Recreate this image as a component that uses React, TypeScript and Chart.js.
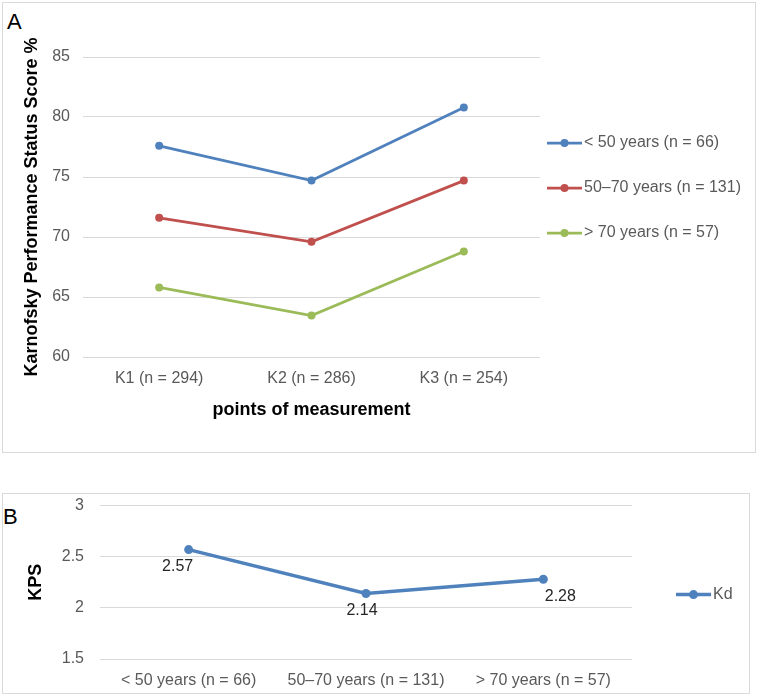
import React, { useEffect, useRef } from "react";
import { Chart, registerables } from "chart.js";
Chart.register(...registerables);

// ---- data ----
const measurementPoints = ["K1 (n = 294)", "K2 (n = 286)", "K3 (n = 254)"];
const groupNames = ["< 50 years (n = 66)", "50–70 years (n = 131)", "> 70 years (n = 57)"];
const under50 = [77.6, 74.7, 80.8];
const from50to70 = [71.6, 69.6, 74.7];
const over70 = [65.8, 63.45, 68.8];
const scoreTicks = [60, 65, 70, 75, 80, 85];

const kdLabel = "Kd";
const kdValues = [2.57, 2.14, 2.28];
const kpsTicks = [1.5, 2, 2.5, 3];

// ---- style ----
const FONT = "'Liberation Sans', Arial, sans-serif";
const BLUE = "#4F81BD";
const RED = "#C0504D";
const GREEN = "#9BBB59";
const GRID = "#d9d9d9";
const TICK = "#595959";

const legendA = {
  id: "legendA",
  afterDraw(chart: any) {
    const { ctx, chartArea } = chart;
    chart.data.datasets.forEach((ds: any, i: number) => {
      const y = chartArea.top + 86 + i * 45;
      const x0 = chartArea.right + 7;
      ctx.save();
      ctx.strokeStyle = ds.borderColor;
      ctx.lineWidth = 2.75;
      ctx.beginPath();
      ctx.moveTo(x0, y);
      ctx.lineTo(x0 + 35, y);
      ctx.stroke();
      ctx.fillStyle = ds.borderColor;
      ctx.beginPath();
      ctx.arc(x0 + 17.5, y, 4, 0, Math.PI * 2);
      ctx.fill();
      ctx.fillStyle = TICK;
      ctx.font = `16px ${FONT}`;
      ctx.textBaseline = "middle";
      ctx.textAlign = "left";
      ctx.fillText(ds.label, x0 + 37, y);
      ctx.restore();
    });
  },
};

const legendB = {
  id: "legendB",
  afterDraw(chart: any) {
    const { ctx, chartArea } = chart;
    const ds = chart.data.datasets[0];
    const y = chartArea.top + 89;
    const x0 = chartArea.right + 44;
    ctx.save();
    ctx.strokeStyle = ds.borderColor;
    ctx.lineWidth = 3.5;
    ctx.beginPath();
    ctx.moveTo(x0, y);
    ctx.lineTo(x0 + 35, y);
    ctx.stroke();
    ctx.fillStyle = ds.borderColor;
    ctx.beginPath();
    ctx.arc(x0 + 17.5, y, 4.5, 0, Math.PI * 2);
    ctx.fill();
    ctx.fillStyle = TICK;
    ctx.font = `16px ${FONT}`;
    ctx.textBaseline = "middle";
    ctx.textAlign = "left";
    ctx.fillText(ds.label, x0 + 37, y);
    ctx.restore();
  },
};

const labelShift = [-11, -4, 17];
const dataLabelsB = {
  id: "dataLabelsB",
  afterDatasetsDraw(chart: any) {
    const { ctx } = chart;
    const meta = chart.getDatasetMeta(0);
    const values = chart.data.datasets[0].data;
    ctx.save();
    ctx.fillStyle = "#262626";
    ctx.font = `16px ${FONT}`;
    ctx.textAlign = "center";
    ctx.textBaseline = "middle";
    meta.data.forEach((pt: any, i: number) => {
      ctx.fillText(Number(values[i]).toFixed(2), pt.x + labelShift[i], pt.y + 17);
    });
    ctx.restore();
  },
};

function ChartA() {
  const ref = useRef<HTMLCanvasElement>(null);
  useEffect(() => {
    const mk = (label: string, data: number[], color: string) => ({
      label,
      data,
      borderColor: color,
      backgroundColor: color,
      borderWidth: 2.75,
      pointRadius: 4,
      pointHoverRadius: 4,
      pointBorderWidth: 0,
      tension: 0,
    });
    const chart = new Chart(ref.current!, {
      type: "line",
      data: {
        labels: measurementPoints,
        datasets: [
          mk(groupNames[0], under50, BLUE),
          mk(groupNames[1], from50to70, RED),
          mk(groupNames[2], over70, GREEN),
        ],
      },
      options: {
        animation: false,
        responsive: false,
        layout: { padding: { top: 57, right: 218, left: 0, bottom: 0 } },
        plugins: { legend: { display: false }, tooltip: { enabled: false } },
        scales: {
          x: {
            offset: true,
            grid: { display: false, drawTicks: false },
            border: { display: false },
            ticks: { color: TICK, font: { family: FONT, size: 16 }, padding: 12, maxRotation: 0 },
            title: {
              display: true,
              text: "points of measurement",
              color: "#000",
              font: { family: FONT, size: 18, weight: "bold" },
              padding: { top: 0, bottom: 49 },
            },
            afterFit(s: any) { s.height = 113; },
          },
          y: {
            min: 60,
            max: 85,
            afterBuildTicks(s: any) { s.ticks = scoreTicks.map((v) => ({ value: v })); },
            grid: { color: GRID, lineWidth: 1, drawTicks: false },
            border: { display: false },
            ticks: { color: TICK, font: { family: FONT, size: 16 }, padding: 13 },
            title: {
              display: true,
              text: "Karnofsky Performance Status Score %",
              color: "#000",
              font: { family: FONT, size: 18, weight: "bold" },
              padding: { top: 21, bottom: 0 },
            },
            afterFit(s: any) { s.width = 83; },
          },
        },
      },
      plugins: [legendA],
    } as any);
    return () => chart.destroy();
  }, []);
  return (
    <canvas
      ref={ref}
      width={758}
      height={470}
      style={{ position: "absolute", left: 0, top: 0, width: 758, height: 470 }}
    />
  );
}

function ChartB() {
  const ref = useRef<HTMLCanvasElement>(null);
  useEffect(() => {
    const chart = new Chart(ref.current!, {
      type: "line",
      data: {
        labels: groupNames,
        datasets: [
          {
            label: kdLabel,
            data: kdValues,
            borderColor: BLUE,
            backgroundColor: BLUE,
            borderWidth: 3.5,
            pointRadius: 4.5,
            pointHoverRadius: 4.5,
            pointBorderWidth: 0,
            tension: 0,
          },
        ],
      },
      options: {
        animation: false,
        responsive: false,
        layout: { padding: { top: 25, right: 126, left: 0, bottom: 0 } },
        plugins: { legend: { display: false }, tooltip: { enabled: false } },
        scales: {
          x: {
            offset: true,
            grid: { display: false, drawTicks: false },
            border: { display: false },
            ticks: { color: TICK, font: { family: FONT, size: 16 }, padding: 12, maxRotation: 0 },
            afterFit(s: any) { s.height = 36; },
          },
          y: {
            min: 1.5,
            max: 3,
            afterBuildTicks(s: any) { s.ticks = kpsTicks.map((v) => ({ value: v })); },
            grid: { color: GRID, lineWidth: 1, drawTicks: false },
            border: { display: false },
            ticks: {
              color: TICK,
              font: { family: FONT, size: 16 },
              padding: 16,
              callback: (v: any) => String(v),
            },
            title: {
              display: true,
              text: "KPS",
              color: "#000",
              font: { family: FONT, size: 18, weight: "bold" },
              padding: { top: 25, bottom: 0 },
            },
            afterFit(s: any) { s.width = 100; },
          },
        },
      },
      plugins: [dataLabelsB, legendB],
    } as any);
    return () => chart.destroy();
  }, []);
  return (
    <canvas
      ref={ref}
      width={758}
      height={215}
      style={{ position: "absolute", left: 0, top: 480, width: 758, height: 215 }}
    />
  );
}

export default function App() {
  const box = (left: number, top: number, width: number, height: number) => ({
    position: "absolute" as const,
    left,
    top,
    width,
    height,
    boxSizing: "border-box" as const,
    border: "1px solid #d9d9d9",
    background: "#fff",
  });
  const letter = (left: number, top: number) => ({
    position: "absolute" as const,
    left,
    top,
    fontFamily: FONT,
    fontSize: 22,
    lineHeight: "22px",
    color: "#000",
  });
  return (
    <div style={{ position: "absolute", left: 0, top: 0, width: 758, height: 695, background: "#fff", overflow: "hidden" }}>
      <div style={box(2, 2, 754, 451)} />
      <div style={box(2, 493, 748, 201)} />
      <div style={letter(7, 11)}>A</div>
      <div style={letter(3, 506)}>B</div>
      <ChartA />
      <ChartB />
    </div>
  );
}
